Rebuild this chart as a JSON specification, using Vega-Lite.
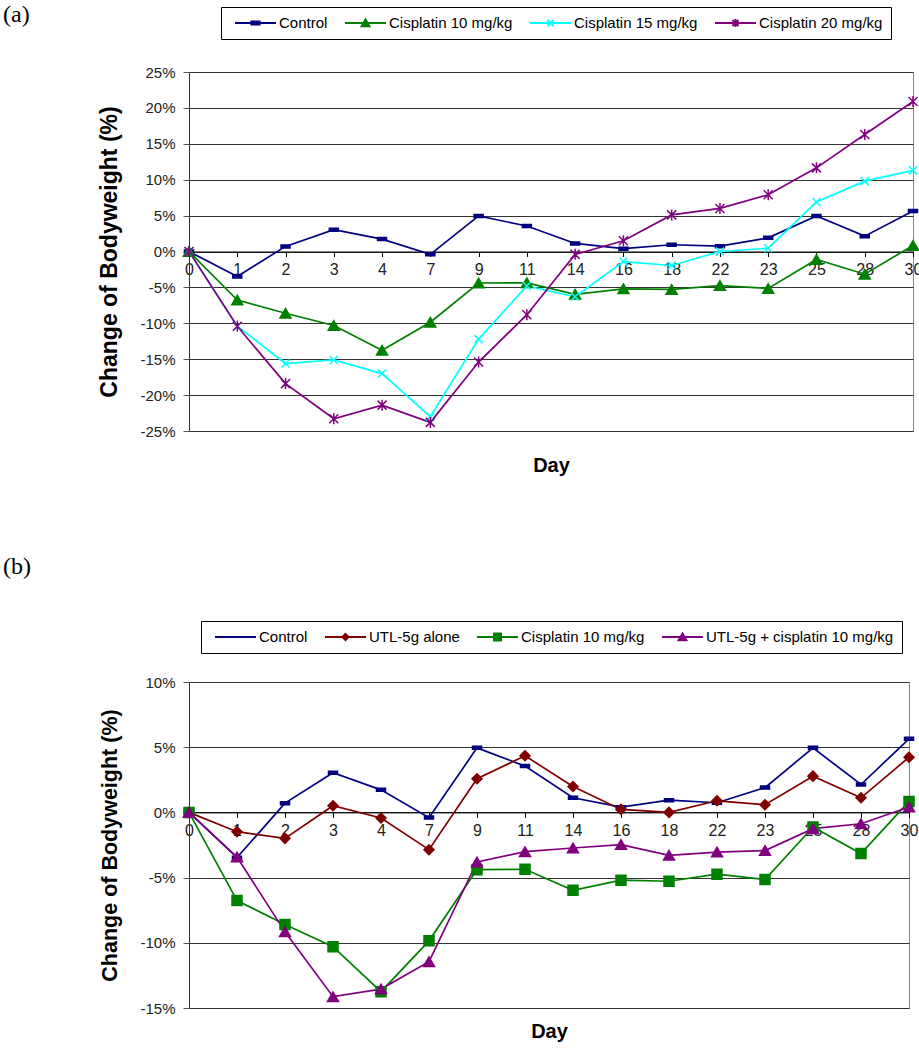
{
  "$schema": "https://vega.github.io/schema/vega-lite/v6.json",
  "background": "white",
  "padding": {"left": 2, "top": 2, "right": 0, "bottom": 0},
  "spacing": 78,
  "datasets": {
    "a": [
      {"day":0,"series":"Control","value":0},{"day":1,"series":"Control","value":-3.47},{"day":2,"series":"Control","value":0.71},{"day":3,"series":"Control","value":3.04},{"day":4,"series":"Control","value":1.73},{"day":7,"series":"Control","value":-0.4},{"day":9,"series":"Control","value":4.95},{"day":11,"series":"Control","value":3.55},{"day":14,"series":"Control","value":1.12},{"day":16,"series":"Control","value":0.4},{"day":18,"series":"Control","value":0.94},{"day":22,"series":"Control","value":0.74},{"day":23,"series":"Control","value":1.9},{"day":25,"series":"Control","value":4.95},{"day":28,"series":"Control","value":2.14},{"day":30,"series":"Control","value":5.64},
      {"day":0,"series":"Cisplatin 10 mg/kg","value":0},{"day":1,"series":"Cisplatin 10 mg/kg","value":-6.76},{"day":2,"series":"Cisplatin 10 mg/kg","value":-8.6},{"day":3,"series":"Cisplatin 10 mg/kg","value":-10.3},{"day":4,"series":"Cisplatin 10 mg/kg","value":-13.75},{"day":7,"series":"Cisplatin 10 mg/kg","value":-9.85},{"day":9,"series":"Cisplatin 10 mg/kg","value":-4.39},{"day":11,"series":"Cisplatin 10 mg/kg","value":-4.36},{"day":14,"series":"Cisplatin 10 mg/kg","value":-5.97},{"day":16,"series":"Cisplatin 10 mg/kg","value":-5.2},{"day":18,"series":"Cisplatin 10 mg/kg","value":-5.28},{"day":22,"series":"Cisplatin 10 mg/kg","value":-4.74},{"day":23,"series":"Cisplatin 10 mg/kg","value":-5.15},{"day":25,"series":"Cisplatin 10 mg/kg","value":-1.12},{"day":28,"series":"Cisplatin 10 mg/kg","value":-3.16},{"day":30,"series":"Cisplatin 10 mg/kg","value":0.84},
      {"day":0,"series":"Cisplatin 15 mg/kg","value":0},{"day":1,"series":"Cisplatin 15 mg/kg","value":-10.4},{"day":2,"series":"Cisplatin 15 mg/kg","value":-15.6},{"day":3,"series":"Cisplatin 15 mg/kg","value":-15.1},{"day":4,"series":"Cisplatin 15 mg/kg","value":-17.0},{"day":7,"series":"Cisplatin 15 mg/kg","value":-23.0},{"day":9,"series":"Cisplatin 15 mg/kg","value":-12.2},{"day":11,"series":"Cisplatin 15 mg/kg","value":-4.8},{"day":14,"series":"Cisplatin 15 mg/kg","value":-6.3},{"day":16,"series":"Cisplatin 15 mg/kg","value":-1.4},{"day":18,"series":"Cisplatin 15 mg/kg","value":-1.95},{"day":22,"series":"Cisplatin 15 mg/kg","value":0},{"day":23,"series":"Cisplatin 15 mg/kg","value":0.46},{"day":25,"series":"Cisplatin 15 mg/kg","value":6.9},{"day":28,"series":"Cisplatin 15 mg/kg","value":9.8},{"day":30,"series":"Cisplatin 15 mg/kg","value":11.3},
      {"day":0,"series":"Cisplatin 20 mg/kg","value":0},{"day":1,"series":"Cisplatin 20 mg/kg","value":-10.4},{"day":2,"series":"Cisplatin 20 mg/kg","value":-18.4},{"day":3,"series":"Cisplatin 20 mg/kg","value":-23.3},{"day":4,"series":"Cisplatin 20 mg/kg","value":-21.4},{"day":7,"series":"Cisplatin 20 mg/kg","value":-23.8},{"day":9,"series":"Cisplatin 20 mg/kg","value":-15.4},{"day":11,"series":"Cisplatin 20 mg/kg","value":-8.8},{"day":14,"series":"Cisplatin 20 mg/kg","value":-0.4},{"day":16,"series":"Cisplatin 20 mg/kg","value":1.5},{"day":18,"series":"Cisplatin 20 mg/kg","value":5.1},{"day":22,"series":"Cisplatin 20 mg/kg","value":6.0},{"day":23,"series":"Cisplatin 20 mg/kg","value":7.9},{"day":25,"series":"Cisplatin 20 mg/kg","value":11.65},{"day":28,"series":"Cisplatin 20 mg/kg","value":16.3},{"day":30,"series":"Cisplatin 20 mg/kg","value":20.9}
    ],
    "b": [
      {"day":0,"series":"Control","value":0},{"day":1,"series":"Control","value":-3.47},{"day":2,"series":"Control","value":0.71},{"day":3,"series":"Control","value":3.04},{"day":4,"series":"Control","value":1.73},{"day":7,"series":"Control","value":-0.4},{"day":9,"series":"Control","value":4.95},{"day":11,"series":"Control","value":3.55},{"day":14,"series":"Control","value":1.12},{"day":16,"series":"Control","value":0.4},{"day":18,"series":"Control","value":0.94},{"day":22,"series":"Control","value":0.74},{"day":23,"series":"Control","value":1.9},{"day":25,"series":"Control","value":4.95},{"day":28,"series":"Control","value":2.14},{"day":30,"series":"Control","value":5.64},
      {"day":0,"series":"UTL-5g alone","value":0},{"day":1,"series":"UTL-5g alone","value":-1.48},{"day":2,"series":"UTL-5g alone","value":-1.99},{"day":3,"series":"UTL-5g alone","value":0.51},{"day":4,"series":"UTL-5g alone","value":-0.43},{"day":7,"series":"UTL-5g alone","value":-2.86},{"day":9,"series":"UTL-5g alone","value":2.58},{"day":11,"series":"UTL-5g alone","value":4.34},{"day":14,"series":"UTL-5g alone","value":1.99},{"day":16,"series":"UTL-5g alone","value":0.23},{"day":18,"series":"UTL-5g alone","value":0},{"day":22,"series":"UTL-5g alone","value":0.89},{"day":23,"series":"UTL-5g alone","value":0.59},{"day":25,"series":"UTL-5g alone","value":2.78},{"day":28,"series":"UTL-5g alone","value":1.12},{"day":30,"series":"UTL-5g alone","value":4.23},
      {"day":0,"series":"Cisplatin 10 mg/kg","value":0},{"day":1,"series":"Cisplatin 10 mg/kg","value":-6.76},{"day":2,"series":"Cisplatin 10 mg/kg","value":-8.6},{"day":3,"series":"Cisplatin 10 mg/kg","value":-10.3},{"day":4,"series":"Cisplatin 10 mg/kg","value":-13.75},{"day":7,"series":"Cisplatin 10 mg/kg","value":-9.85},{"day":9,"series":"Cisplatin 10 mg/kg","value":-4.39},{"day":11,"series":"Cisplatin 10 mg/kg","value":-4.36},{"day":14,"series":"Cisplatin 10 mg/kg","value":-5.97},{"day":16,"series":"Cisplatin 10 mg/kg","value":-5.2},{"day":18,"series":"Cisplatin 10 mg/kg","value":-5.28},{"day":22,"series":"Cisplatin 10 mg/kg","value":-4.74},{"day":23,"series":"Cisplatin 10 mg/kg","value":-5.15},{"day":25,"series":"Cisplatin 10 mg/kg","value":-1.12},{"day":28,"series":"Cisplatin 10 mg/kg","value":-3.16},{"day":30,"series":"Cisplatin 10 mg/kg","value":0.84},
      {"day":0,"series":"UTL-5g + cisplatin 10 mg/kg","value":0},{"day":1,"series":"UTL-5g + cisplatin 10 mg/kg","value":-3.42},{"day":2,"series":"UTL-5g + cisplatin 10 mg/kg","value":-9.16},{"day":3,"series":"UTL-5g + cisplatin 10 mg/kg","value":-14.13},{"day":4,"series":"UTL-5g + cisplatin 10 mg/kg","value":-13.55},{"day":7,"series":"UTL-5g + cisplatin 10 mg/kg","value":-11.45},{"day":9,"series":"UTL-5g + cisplatin 10 mg/kg","value":-3.8},{"day":11,"series":"UTL-5g + cisplatin 10 mg/kg","value":-3.01},{"day":14,"series":"UTL-5g + cisplatin 10 mg/kg","value":-2.73},{"day":16,"series":"UTL-5g + cisplatin 10 mg/kg","value":-2.47},{"day":18,"series":"UTL-5g + cisplatin 10 mg/kg","value":-3.29},{"day":22,"series":"UTL-5g + cisplatin 10 mg/kg","value":-3.04},{"day":23,"series":"UTL-5g + cisplatin 10 mg/kg","value":-2.93},{"day":25,"series":"UTL-5g + cisplatin 10 mg/kg","value":-1.25},{"day":28,"series":"UTL-5g + cisplatin 10 mg/kg","value":-0.87},{"day":30,"series":"UTL-5g + cisplatin 10 mg/kg","value":0.41}
    ]
  },
  "vconcat": [
    {
      "title": {"text": "(a)", "anchor": "start", "frame": "group", "dx": -186, "dy": 20, "offset": 0, "font": "Liberation Serif", "fontSize": 24, "fontWeight": "normal", "color": "#000"},
      "width": 724,
      "height": 359,
      "data": {"name": "a"},
      "encoding": {
        "x": {"field": "day", "type": "ordinal", "scale": {"type": "point", "padding": 0},
          "axis": {"title": "Day", "offset": -179.5, "titleY": 204, "titleFontSize": 20, "titleFontWeight": "bold", "titleColor": "#000",
            "labelAngle": 0, "labelFontSize": 16, "labelColor": "#222", "labelPadding": 5, "tickSize": 5, "tickColor": "#000", "domainColor": "#000", "grid": false}},
        "y": {"field": "value", "type": "quantitative", "scale": {"domain": [-25, 25], "nice": false, "zero": false},
          "axis": {"title": "Change of Bodyweight (%)", "titleFontSize": 23, "titleFontWeight": "bold", "titleColor": "#000", "titlePadding": 18,
            "values": [-25, -20, -15, -10, -5, 0, 5, 10, 15, 20, 25], "labelExpr": "datum.value + '%'",
            "labelFontSize": 15, "labelColor": "#222", "labelPadding": 8, "tickSize": 6, "tickColor": "#555", "domainColor": "#333",
            "grid": true, "gridColor": "#333", "gridWidth": 1}}
      },
      "layer": [
        {"mark": {"type": "line", "strokeWidth": 1.7},
          "encoding": {"stroke": {"field": "series", "type": "nominal", "legend": null,
            "scale": {"domain": ["Control", "Cisplatin 10 mg/kg", "Cisplatin 15 mg/kg", "Cisplatin 20 mg/kg"], "range": ["#000080", "#008000", "#00FFFF", "#800080"]}}}},
        {"mark": {"type": "point", "filled": true, "opacity": 1, "size": 100, "strokeWidth": 1.5},
          "encoding": {
            "fill": {"field": "series", "type": "nominal", "legend": null,
              "scale": {"domain": ["Control", "Cisplatin 10 mg/kg", "Cisplatin 15 mg/kg", "Cisplatin 20 mg/kg"], "range": ["#000080", "#008000", "#00FFFF", "#800080"]}},
            "stroke": {"field": "series", "type": "nominal", "legend": null,
              "scale": {"domain": ["Control", "Cisplatin 10 mg/kg", "Cisplatin 15 mg/kg", "Cisplatin 20 mg/kg"], "range": ["#000080", "#008000", "#00FFFF", "#800080"]}},
            "shape": {"field": "series", "type": "nominal", "legend": null,
              "scale": {"domain": ["Control", "Cisplatin 10 mg/kg", "Cisplatin 15 mg/kg", "Cisplatin 20 mg/kg"],
                "range": ["M-0.9,-0.3H0.9V0.3H-0.9Z", "M-1.1,0.95L0,-0.95L1.1,0.95Z", "M-0.8,-0.8L0.8,0.8M-0.8,0.8L0.8,-0.8", "M-0.9,-0.9L0.9,0.9M-0.9,0.9L0.9,-0.9M0,-1.1V1.1"]}}
          }},
        {"transform": [{"filter": "false"}],
          "mark": {"type": "point", "filled": true, "opacity": 1, "strokeWidth": 2},
          "encoding": {
            "fill": {"field": "series", "type": "nominal",
              "scale": {"domain": ["Control", "Cisplatin 10 mg/kg", "Cisplatin 15 mg/kg", "Cisplatin 20 mg/kg"], "range": ["#000080", "#008000", "#00FFFF", "#800080"]},
              "legend": {"orient": "none", "legendX": 32, "legendY": -65, "direction": "horizontal", "title": " ", "titleOrient": "left", "titlePadding": 5,
                "strokeColor": "#000", "fillColor": "white", "padding": 8, "symbolSize": 1681, "clipHeight": 16, "labelOffset": 2, "columnPadding": 16,
                "labelFontSize": 15, "labelColor": "#000", "labelLimit": 400, "symbolStrokeWidth": 2}},
            "stroke": {"field": "series", "type": "nominal",
              "scale": {"domain": ["Control", "Cisplatin 10 mg/kg", "Cisplatin 15 mg/kg", "Cisplatin 20 mg/kg"], "range": ["#000080", "#008000", "#00FFFF", "#800080"]}},
            "shape": {"field": "series", "type": "nominal",
              "scale": {"domain": ["Control", "Cisplatin 10 mg/kg", "Cisplatin 15 mg/kg", "Cisplatin 20 mg/kg"],
                "range": ["M-1,0H1M-0.2,-0.07H0.2V0.07H-0.2Z", "M-1,0H1M-0.19,0.16L0,-0.17L0.19,0.16Z", "M-1,0H1M-0.15,-0.15L0.15,0.15M-0.15,0.15L0.15,-0.15", "M-1,0H1M-0.15,-0.15L0.15,0.15M-0.15,0.15L0.15,-0.15M0,-0.19V0.19"]}}
          }}
      ],
      "resolve": {"scale": {"fill": "independent", "stroke": "independent", "shape": "independent"}}
    },
    {
      "title": {"text": "(b)", "anchor": "start", "frame": "group", "dx": -186, "dy": 0, "offset": 42, "font": "Liberation Serif", "fontSize": 24, "fontWeight": "normal", "color": "#000"},
      "width": 720,
      "height": 326,
      "data": {"name": "b"},
      "encoding": {
        "x": {"field": "day", "type": "ordinal", "scale": {"type": "point", "padding": 0},
          "axis": {"title": "Day", "offset": -195.6, "titleY": 209, "titleFontSize": 20, "titleFontWeight": "bold", "titleColor": "#000",
            "labelAngle": 0, "labelFontSize": 16, "labelColor": "#222", "labelPadding": 5, "tickSize": 5, "tickColor": "#000", "domainColor": "#000", "grid": false}},
        "y": {"field": "value", "type": "quantitative", "scale": {"domain": [-15, 10], "nice": false, "zero": false},
          "axis": {"title": "Change of Bodyweight (%)", "titleFontSize": 21.5, "titleFontWeight": "bold", "titleColor": "#000", "titlePadding": 18,
            "values": [-15, -10, -5, 0, 5, 10], "labelExpr": "datum.value + '%'",
            "labelFontSize": 15, "labelColor": "#222", "labelPadding": 8, "tickSize": 6, "tickColor": "#555", "domainColor": "#333",
            "grid": true, "gridColor": "#333", "gridWidth": 1}}
      },
      "layer": [
        {"mark": {"type": "line", "strokeWidth": 1.7},
          "encoding": {"stroke": {"field": "series", "type": "nominal", "legend": null,
            "scale": {"domain": ["Control", "UTL-5g alone", "Cisplatin 10 mg/kg", "UTL-5g + cisplatin 10 mg/kg"], "range": ["#000080", "#800000", "#008000", "#800080"]}}}},
        {"mark": {"type": "point", "filled": true, "opacity": 1, "size": 100, "strokeWidth": 1.5},
          "encoding": {
            "fill": {"field": "series", "type": "nominal", "legend": null,
              "scale": {"domain": ["Control", "UTL-5g alone", "Cisplatin 10 mg/kg", "UTL-5g + cisplatin 10 mg/kg"], "range": ["#000080", "#800000", "#008000", "#800080"]}},
            "stroke": {"field": "series", "type": "nominal", "legend": null,
              "scale": {"domain": ["Control", "UTL-5g alone", "Cisplatin 10 mg/kg", "UTL-5g + cisplatin 10 mg/kg"], "range": ["#000080", "#800000", "#008000", "#800080"]}},
            "shape": {"field": "series", "type": "nominal", "legend": null,
              "scale": {"domain": ["Control", "UTL-5g alone", "Cisplatin 10 mg/kg", "UTL-5g + cisplatin 10 mg/kg"],
                "range": ["M-0.9,-0.3H0.9V0.3H-0.9Z", "M-1,0L0,-1L1,0L0,1Z", "M-1,-1H1V1H-1Z", "M-1.1,0.95L0,-0.95L1.1,0.95Z"]}}
          }},
        {"transform": [{"filter": "false"}],
          "mark": {"type": "point", "filled": true, "opacity": 1, "strokeWidth": 2},
          "encoding": {
            "fill": {"field": "series", "type": "nominal",
              "scale": {"domain": ["Control", "UTL-5g alone", "Cisplatin 10 mg/kg", "UTL-5g + cisplatin 10 mg/kg"], "range": ["#000080", "#800000", "#008000", "#800080"]},
              "legend": {"orient": "none", "legendX": 12, "legendY": -61, "direction": "horizontal", "title": " ", "titleOrient": "left", "titlePadding": 5,
                "strokeColor": "#000", "fillColor": "white", "padding": 8, "symbolSize": 1681, "clipHeight": 16, "labelOffset": 2, "columnPadding": 16,
                "labelFontSize": 15, "labelColor": "#000", "labelLimit": 400, "symbolStrokeWidth": 2}},
            "stroke": {"field": "series", "type": "nominal",
              "scale": {"domain": ["Control", "UTL-5g alone", "Cisplatin 10 mg/kg", "UTL-5g + cisplatin 10 mg/kg"], "range": ["#000080", "#800000", "#008000", "#800080"]}},
            "shape": {"field": "series", "type": "nominal",
              "scale": {"domain": ["Control", "UTL-5g alone", "Cisplatin 10 mg/kg", "UTL-5g + cisplatin 10 mg/kg"],
                "range": ["M-1,0H1", "M-1,0H1M-0.15,0L0,-0.15L0.15,0L0,0.15Z", "M-1,0H1M-0.17,-0.17H0.17V0.17H-0.17Z", "M-1,0H1M-0.19,0.16L0,-0.17L0.19,0.16Z"]}}
          }}
      ],
      "resolve": {"scale": {"fill": "independent", "stroke": "independent", "shape": "independent"}}
    }
  ],
  "resolve": {"scale": {"x": "independent", "y": "independent"}},
  "config": {
    "font": "Liberation Sans",
    "view": {"stroke": "#888", "strokeWidth": 1},
    "axis": {"labelFont": "Liberation Sans", "titleFont": "Liberation Sans"},
    "legend": {"labelFont": "Liberation Sans", "titleFont": "Liberation Sans"}
  }
}
